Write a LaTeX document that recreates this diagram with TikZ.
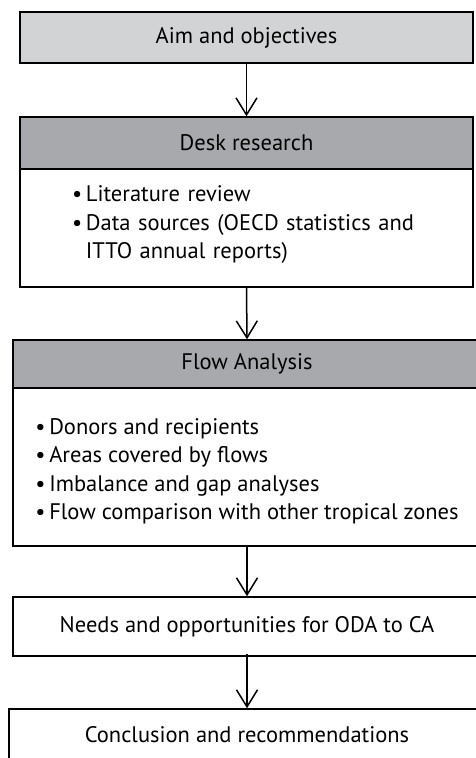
\documentclass[tikz,border=0pt]{standalone}
\usepackage{fontspec}
\setmainfont{PT Sans}
\usetikzlibrary{arrows.meta,positioning}
\definecolor{lightgrey}{HTML}{D1D3D4}
\definecolor{midgrey}{HTML}{A7A9AC}
\tikzset{every node/.style={font=\fontsize{22.5}{28.5}\selectfont}}
\newcommand{\Item}{\textbullet\,}

\begin{document}
\begin{tikzpicture}[x=1pt,y=-1pt,
  box/.style={rectangle,draw=black,line width=1.5pt,inner sep=0pt,align=left},
  flowarrow/.style={-{Straight Barb[length=17pt,width=21pt,line width=1.5pt]},line width=1.5pt}]
\useasboundingbox (0,0) rectangle (476,758);
\clip (0,0) rectangle (476,758);
% \draw[help lines,step=50] (0,0) grid (476,758);
\node (aim) [box,fill=lightgrey,minimum width=453pt,minimum height=51pt] at (246.5,37.5) {Aim and objectives};
\node (deskhead) [box,fill=midgrey,minimum width=453pt,minimum height=52pt] at (246.5,143) {Desk research};
\node (deskbody) [box,fill=white,minimum width=453pt,minimum height=118pt,text width=349pt] at (246.5,228) {%
  \Item Literature review\\
  \Item Data sources (OECD statistics and\\
  \phantom{\Item}ITTO annual reports)\rule[-11pt]{0pt}{11pt}};
%
\node (flowhead) [box,fill=midgrey,minimum width=468pt,minimum height=48pt] at (247,364) {Flow Analysis};
\node (flowbody) [box,fill=white,minimum width=468pt,minimum height=158pt] at (247,467) {%
  \rule{0pt}{24pt}\Item Donors and recipients\\
  \Item Areas covered by flows\\
  \Item Imbalance and gap analyses\\
  \Item Flow comparison with other tropical zones};
%
\node (needs) [box,minimum width=468pt,minimum height=59pt] at (247,626.5) {Needs and opportunities for ODA to CA};
\node (concl) [box,minimum width=476pt,minimum height=52pt] at (247,735) {Conclusion and recommendations};
%
\path[flowarrow] (aim.south) edge (deskhead.north);
\path[flowarrow] (deskbody.south) edge (flowhead.north);
\path[flowarrow] (flowbody.south) edge (needs.north);
\path[flowarrow] ([yshift=3pt]needs.south) edge (concl.north);
\end{tikzpicture}
\end{document}
